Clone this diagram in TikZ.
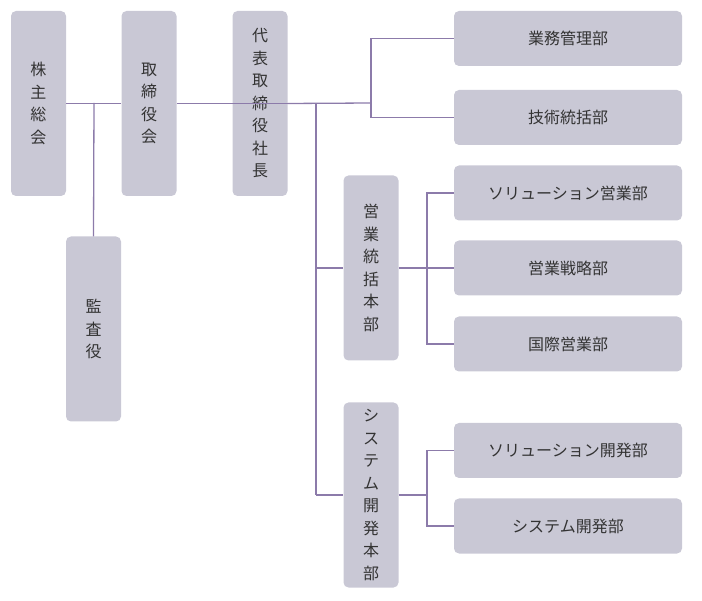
\documentclass[tikz,border=0pt]{standalone}
\usepackage{fontspec}
\newfontfamily\jp{Noto Sans CJK JP}
\definecolor{boxc}{HTML}{C9C8D5}
\definecolor{linec}{HTML}{8C7BAA}
\definecolor{txt}{HTML}{333333}
\begin{document}
\begin{tikzpicture}[x=1pt,y=-1pt,
  bx/.style={fill=boxc,draw=none,rounded corners=5pt,inner sep=0pt,text=txt,
    font=\jp\fontsize{16}{22.5}\selectfont,align=center},
  vb/.style={bx,minimum width=55pt,minimum height=185pt},
  hb/.style={bx,minimum width=228pt,minimum height=55pt},
  ln/.style={draw=linec,line width=1.3pt}]
\useasboundingbox (0,0) rectangle (702,601);
\node[vb] (a) at (38.5,103.5) {株\\主\\総\\会};
\node[vb] (b) at (149,103.5) {取\\締\\役\\会};
\node[vb] (c) at (260,103.5) {代\\表\\取\\締\\役\\社\\長};
\node[vb] (d) at (93.5,329) {監\\査\\役};
\node[hb] (e) at (568,38.5) {業務管理部};
\node[hb] (f) at (568,117.5) {技術統括部};
\node[vb] (g) at (371,268) {営\\業\\統\\括\\本\\部};
\node[hb] (h) at (568,193) {ソリューション営業部};
\node[hb] (i) at (568,268) {営業戦略部};
\node[hb] (j) at (568,344) {国際営業部};
\node[vb] (k) at (371,495) {シ\\ス\\テ\\ム\\開\\発\\本\\部};
\node[hb] (l) at (568,450.5) {ソリューション開発部};
\node[hb] (m) at (568,526) {システム開発部};
\begin{scope}[ln]
\draw (a.east) -- (b.west);
\draw (94,103) -- (d.north);
\draw (b.east) -- (c.east);
\draw (c.east) -- (371,103);
\draw (e.west) -- (371,38.5) -- (371,117.5) -- (f.west);
\draw (316,103) -- (316,495);
\draw (316,268) -- (g.west);
\draw (316,495) -- (k.west);
\draw (g.east) -- (427,268);
\draw (h.west) -- (427,193) -- (427,344) -- (j.west);
\draw (427,268) -- (i.west);
\draw (k.east) -- (427,495);
\draw (l.west) -- (427,450.5) -- (427,526) -- (m.west);
\end{scope}
\end{tikzpicture}
\end{document}
